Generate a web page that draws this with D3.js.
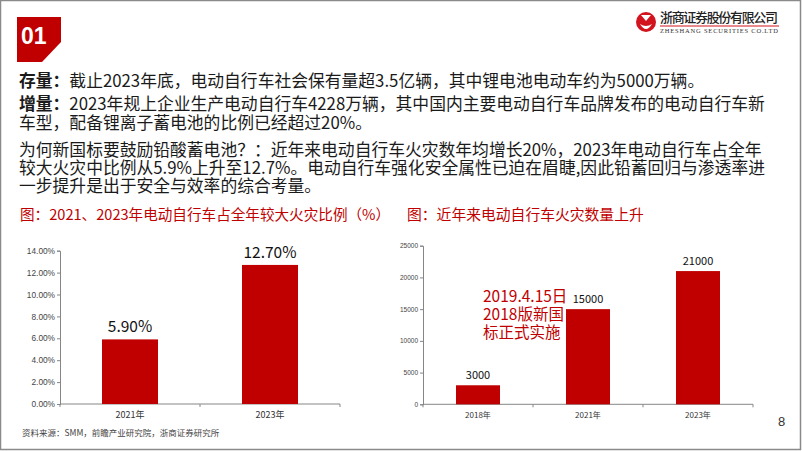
<!DOCTYPE html>
<html>
<head>
<meta charset="utf-8">
<script src="https://cdn.jsdelivr.net/npm/d3@7"></script>
<style>
  body { margin: 0; background: #fff; }
  svg { display: block; }
</style>
</head>
<body>
<div id="container"></div>
<script>
// ---------- data ----------
const shareYears = ['2021年', '2023年']
const shareValues = [5.9, 12.7]
const shareTicks = [0, 2, 4, 6, 8, 10, 12, 14]

const fireYears = ['2018年', '2021年', '2023年']
const fireValues = [3000, 15000, 21000]
const fireTicks = [0, 5000, 10000, 15000, 20000, 25000]

const bodyLines = [
  { bold: '存量：', text: '截止2023年底，电动自行车社会保有量超3.5亿辆，其中锂电池电动车约为5000万辆。', y: 87 },
  { bold: '增量：', text: '2023年规上企业生产电动自行车4228万辆，其中国内主要电动自行车品牌发布的电动自行车新', y: 110 },
  { bold: '', text: '车型，配备锂离子蓄电池的比例已经超过20%。', y: 129 },
  { bold: '', text: '为何新国标要鼓励铅酸蓄电池？：近年来电动自行车火灾数年均增长20%，2023年电动自行车占全年', y: 156 },
  { bold: '', text: '较大火灾中比例从5.9%上升至12.7%。电动自行车强化安全属性已迫在眉睫,因此铅蓄回归与渗透率进', y: 174 },
  { bold: '', text: '一步提升是出于安全与效率的综合考量。', y: 192 }
]
const noteLines = ['2019.4.15日', '2018版新国', '标正式实施']

const width = 802
const height = 451
const red = '#c00000'
const cjk = '"Noto Sans CJK SC", "Noto Sans", sans-serif'
const arial = '"Liberation Sans", Arial, sans-serif'

const svg = d3.create('svg')
    .attr('width', width)
    .attr('height', height)

// slide frame
svg.append('rect')
    .attr('x', 0.5).attr('y', 0.5)
    .attr('width', width - 2).attr('height', height - 2)
    .attr('fill', 'none')
    .attr('stroke', '#8a8a8a')
    .attr('stroke-width', 1.5)

// "01" badge with a cut corner
svg.append('path')
    .attr('d', 'M17,17 H61 V42 L42,62 H17 Z')
    .attr('fill', red)
svg.append('text')
    .attr('x', 21).attr('y', 44)
    .style('font-family', arial)
    .style('font-weight', 'bold')
    .style('font-size', '23px')
    .attr('fill', '#fff')
    .text('01')

// logo
const logo = svg.append('g')
logo.append('circle').attr('cx', 646).attr('cy', 22).attr('r', 10).attr('fill', '#d2141e')
logo.append('path')
    .attr('d', 'M641,15 L651,15 L646,21 Z M640,24 Q646,34 652,24 Q646,28 640,24 Z')
    .attr('fill', '#fff')
logo.append('text')
    .attr('x', 660).attr('y', 22)
    .style('font-family', cjk)
    .style('font-weight', '500')
    .style('font-size', '13px')
    .attr('fill', '#222')
    .attr('textLength', 118)
    .text('浙商证券股份有限公司')
logo.append('line')
    .attr('x1', 660).attr('x2', 779).attr('y1', 26).attr('y2', 26)
    .attr('stroke', '#d2141e').attr('stroke-width', 1)
logo.append('text')
    .attr('x', 660).attr('y', 33)
    .style('font-family', '"Liberation Serif", serif')
    .style('font-size', '6.5px')
    .attr('fill', '#333')
    .attr('textLength', 118)
    .text('ZHESHANG SECURITIES CO.LTD')

// body text
const body = svg.append('g')
    .style('font-family', cjk)
    .style('font-size', '16.8px')
    .attr('fill', '#1a1a1a')
bodyLines.forEach(l => {
  const t = body.append('text').attr('x', 19).attr('y', l.y)
  if (l.bold) t.append('tspan').style('font-weight', 'bold').text(l.bold)
  t.append('tspan').text(l.text)
})

// chart titles
svg.append('text')
    .attr('x', 20).attr('y', 220)
    .style('font-family', cjk).style('font-size', '14.6px')
    .attr('fill', red)
    .text('图：2021、2023年电动自行车占全年较大火灾比例（%）')
svg.append('text')
    .attr('x', 407).attr('y', 220)
    .style('font-family', cjk).style('font-size', '14.8px')
    .attr('fill', red)
    .text('图：近年来电动自行车火灾数量上升')

// ---------- bar chart helper ----------
function drawBars(cfg) {
  const x = d3.scaleBand()
      .domain(cfg.cats)
      .range([cfg.left, cfg.right])
      .paddingInner(0.6)
      .paddingOuter(0.3)
  const y = d3.scaleLinear()
      .domain([0, d3.max(cfg.ticks)])
      .range([cfg.bottom, cfg.top])
  const g = svg.append('g')

  // y axis
  const yAxis = g.append('g')
      .attr('transform', `translate(${cfg.left},0)`)
      .call(d3.axisLeft(y).tickValues(cfg.ticks).tickFormat(cfg.fmt).tickSizeOuter(0).tickSize(3))
  yAxis.select('.domain').attr('stroke', '#868686')
  yAxis.selectAll('.tick line').attr('stroke', '#868686')
  yAxis.selectAll('.tick text')
      .attr('x', -5)
      .style('font-family', arial)
      .style('font-size', cfg.tickSize)
      .attr('fill', '#444')

  // x axis: line plus ticks at band edges
  g.append('line')
      .attr('x1', cfg.left).attr('x2', cfg.right)
      .attr('y1', cfg.bottom).attr('y2', cfg.bottom)
      .attr('stroke', '#868686')
  const step = x.step()
  const edges = d3.range(cfg.cats.length + 1).map(i => cfg.left + i * step)
  g.selectAll('.edge')
      .data(edges)
      .enter()
      .append('line')
      .attr('x1', d => d).attr('x2', d => d)
      .attr('y1', cfg.bottom).attr('y2', cfg.bottom + 3)
      .attr('stroke', '#868686')
  g.selectAll('.cat')
      .data(cfg.cats)
      .enter()
      .append('text')
      .attr('x', d => x(d) + x.bandwidth() / 2)
      .attr('y', cfg.bottom + 14)
      .attr('text-anchor', 'middle')
      .style('font-family', cjk)
      .style('font-size', cfg.catSize)
      .attr('fill', '#333')
      .text(d => d)

  // bars
  g.selectAll('.bar')
      .data(cfg.values)
      .enter()
      .append('rect')
      .attr('x', (d, i) => x(cfg.cats[i]))
      .attr('y', d => y(d))
      .attr('width', x.bandwidth())
      .attr('height', d => cfg.bottom - y(d))
      .attr('fill', red)

  // value labels
  g.selectAll('.val')
      .data(cfg.values)
      .enter()
      .append('text')
      .attr('x', (d, i) => x(cfg.cats[i]) + x.bandwidth() / 2)
      .attr('y', d => y(d) - cfg.labelGap)
      .attr('text-anchor', 'middle')
      .style('font-family', cjk)
      .style('font-size', cfg.labelSize)
      .attr('fill', '#111')
      .text(cfg.labelFmt)
  return { x, y }
}

drawBars({
  cats: shareYears, values: shareValues, ticks: shareTicks,
  left: 60, right: 340, top: 250.7, bottom: 404,
  fmt: d => d.toFixed(2) + '%', tickSize: '8.3px', catSize: '9px',
  labelSize: '15.5px', labelGap: 7, labelFmt: d => d.toFixed(2) + '%'
})

drawBars({
  cats: fireYears, values: fireValues, ticks: fireTicks,
  left: 423, right: 753, top: 245.7, bottom: 404.3,
  fmt: d => d, tickSize: '6.5px', catSize: '8px',
  labelSize: '11px', labelGap: 6, labelFmt: d => d
})

// annotation
svg.append('g')
    .selectAll('text')
    .data(noteLines)
    .enter()
    .append('text')
    .attr('x', 483)
    .attr('y', (d, i) => 302 + i * 18)
    .style('font-family', cjk)
    .style('font-size', '15.5px')
    .attr('fill', red)
    .text(d => d)

// source + page number
svg.append('text')
    .attr('x', 22).attr('y', 436)
    .style('font-family', cjk).style('font-size', '8.5px')
    .attr('fill', '#444')
    .text('资料来源：SMM，前瞻产业研究院，浙商证券研究所')
svg.append('text')
    .attr('x', 778).attr('y', 426)
    .style('font-family', arial).style('font-size', '13px')
    .attr('fill', '#333')
    .text('8')

d3.select('#container').append(() => svg.node())
</script>
</body>
</html>
